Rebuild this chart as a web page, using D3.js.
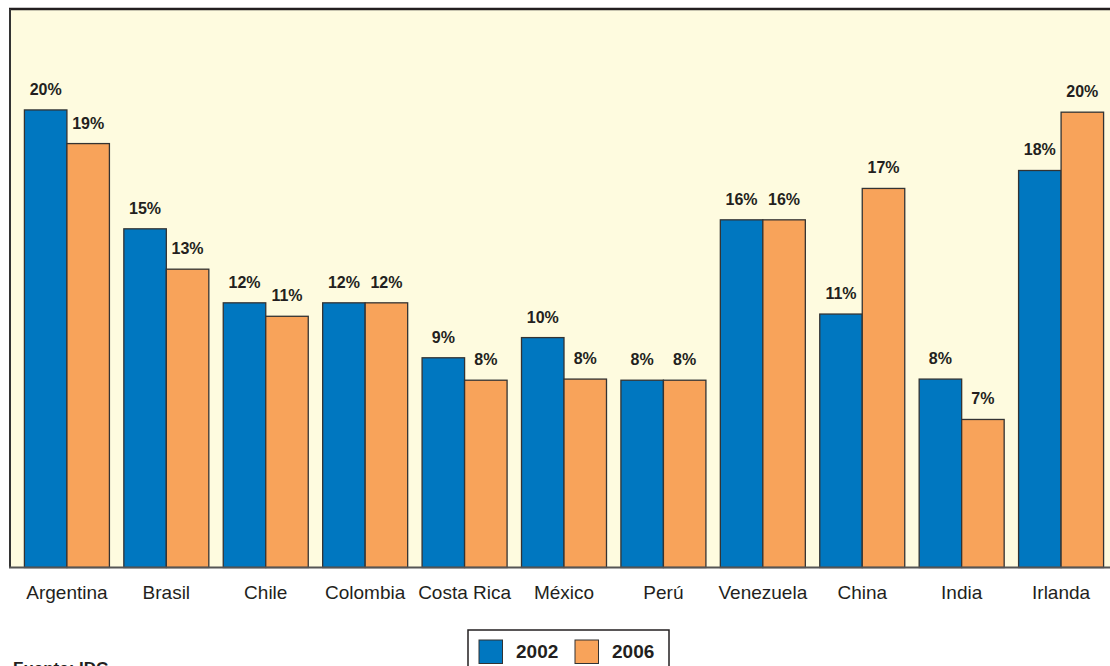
<!DOCTYPE html>
<html>
<head>
<meta charset="utf-8">
<script src="https://cdn.jsdelivr.net/npm/d3@7"></script>
<style>
  html, body { margin: 0; padding: 0; background: #ffffff; }
  svg { display: block; }
</style>
</head>
<body>
<svg id="chart" width="1110" height="666"></svg>
<script>
const categories = ["Argentina", "Brasil", "Chile", "Colombia", "Costa Rica", "México", "Perú", "Venezuela", "China", "India", "Irlanda"];
const series = ["2002", "2006"];
const values2002 = [20.4, 15.1, 11.8, 11.8, 9.35, 10.25, 8.35, 15.5, 11.3, 8.4, 17.7];
const values2006 = [18.9, 13.3, 11.2, 11.8, 8.35, 8.4, 8.35, 15.5, 16.9, 6.6, 20.3];
const labels2002 = ["20%", "15%", "12%", "12%", "9%", "10%", "8%", "16%", "11%", "8%", "18%"];
const labels2006 = ["19%", "13%", "11%", "12%", "8%", "8%", "8%", "16%", "17%", "7%", "20%"];
const colors = ["#0077c0", "#f8a35a"];
const source = "Fuente: IDC";

const svg = d3.select("#chart");
const font = "'Liberation Sans', Arial, Helvetica, sans-serif";

const baseY = 567.5, topY = 9;
const x = d3.scaleBand().domain(categories).range([10, 1118]).paddingInner(0.145).paddingOuter(0.145);
const xs = d3.scaleBand().domain(series).range([0, x.bandwidth()]);
const y = d3.scaleLinear().domain([0, 24.9]).range([baseY, topY]);

// panel background
svg.append("rect").attr("x", 10).attr("y", topY).attr("width", 1110).attr("height", baseY - topY)
  .attr("fill", "#fefbdf");

const data = categories.map((c, i) => ({
  cat: c,
  vals: [
    { s: "2002", v: values2002[i], label: labels2002[i] },
    { s: "2006", v: values2006[i], label: labels2006[i] }
  ]
}));

const g = svg.append("g");
const groups = g.selectAll("g.grp").data(data).join("g")
  .attr("transform", d => `translate(${x(d.cat)},0)`);

groups.selectAll("rect").data(d => d.vals).join("rect")
  .attr("x", d => xs(d.s))
  .attr("y", d => y(d.v))
  .attr("width", xs.bandwidth())
  .attr("height", d => baseY - y(d.v))
  .attr("fill", (d, i) => colors[i])
  .attr("stroke", "#333")
  .attr("stroke-width", 1.3);

groups.selectAll("text.val").data(d => d.vals).join("text")
  .attr("class", "val")
  .attr("x", d => xs(d.s) + xs.bandwidth() / 2)
  .attr("y", d => y(d.v) - 15)
  .attr("text-anchor", "middle")
  .attr("font-family", font)
  .attr("font-weight", "bold")
  .attr("font-size", 16)
  .attr("fill", "#231f20")
  .text(d => d.label);

// panel borders
svg.append("line").attr("x1", 9).attr("x2", 1110).attr("y1", topY).attr("y2", topY)
  .attr("stroke", "#231f20").attr("stroke-width", 2.5);
svg.append("line").attr("x1", 10).attr("x2", 10).attr("y1", topY).attr("y2", baseY)
  .attr("stroke", "#333").attr("stroke-width", 2);

// x axis
const xAxis = d3.axisBottom(x).tickSize(0).tickPadding(0);
const ax = svg.append("g").attr("transform", `translate(0,${baseY})`).call(xAxis);
ax.select(".domain").attr("d", `M9,0H1110`).attr("stroke", "#555").attr("stroke-width", 2.2);
ax.selectAll(".tick text")
  .attr("font-family", font)
  .attr("font-size", 19)
  .attr("fill", "#231f20")
  .attr("dy", 0)
  .attr("y", 31);

// legend
const lg = svg.append("g");
lg.append("rect").attr("x", 468).attr("y", 630).attr("width", 201).attr("height", 50)
  .attr("fill", "#ffffff").attr("stroke", "#231f20").attr("stroke-width", 1.5);
const legX = [479, 575];
series.forEach((s, i) => {
  lg.append("rect").attr("x", legX[i]).attr("y", 640).attr("width", 23.5).attr("height", 23.5)
    .attr("fill", colors[i]).attr("stroke", "#333").attr("stroke-width", 1);
  lg.append("text").attr("x", legX[i] + 37).attr("y", 658)
    .attr("font-family", font).attr("font-weight", "bold").attr("font-size", 19)
    .attr("fill", "#231f20").text(s);
});

// source
svg.append("text").attr("x", 13).attr("y", 674)
  .attr("font-family", font).attr("font-weight", "bold").attr("font-size", 17)
  .attr("fill", "#231f20").text(source);
</script>
</body>
</html>
